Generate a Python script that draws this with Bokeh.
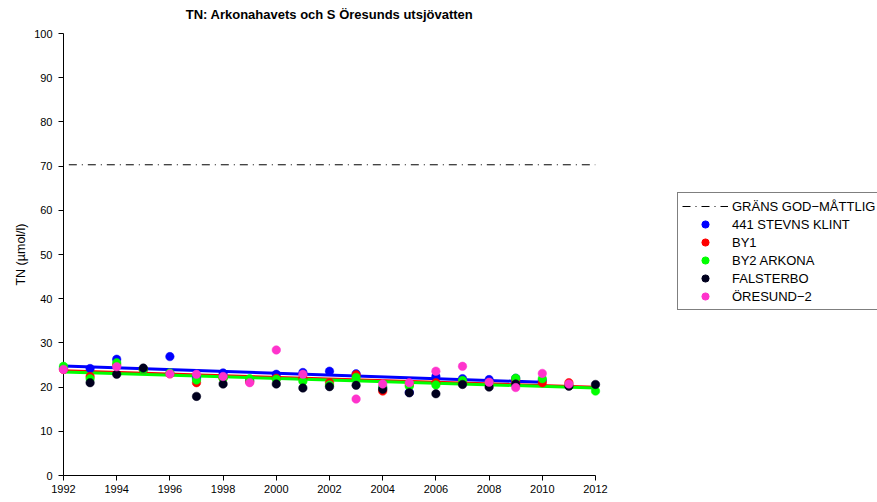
from bokeh.plotting import figure
from bokeh.models import Range1d, Legend, LegendItem, FixedTicker
from bokeh.core.properties import value
from bokeh.layouts import row
from bokeh.embed import file_html
from bokeh.resources import INLINE

nan = float("nan")

years = list(range(1992, 2013))
x_ticks = list(range(1992, 2013, 2))
y_ticks = list(range(0, 101, 10))

title_text = "TN: Arkonahavets och S Öresunds utsjövatten"
y_label = "TN (µmol/l)"

series_names = ["441 STEVNS KLINT", "BY1", "BY2 ARKONA", "FALSTERBO", "ÖRESUND−2"]
series_colors = ["#0000ff", "#ff0000", "#00ff00", "#00001e", "#ff33cc"]

stevns = [24.3, 24.2, 26.3, 24.0, 26.9, 22.0, 23.2, 21.5, 22.9, 23.3, 23.6, 23.0,
          19.8, 18.8, 22.4, 21.9, 21.7, 22.0, 21.5, nan, nan]
by1 = [24.0, 22.4, 25.0, 24.0, 23.0, 21.0, 22.0, 21.2, 22.0, 22.0, 21.0, 22.8,
       19.1, 20.5, 21.0, 21.3, 21.0, 21.5, 21.0, 21.0, nan]
by2 = [24.7, 21.9, 25.5, 24.0, 23.2, 21.6, 22.0, 21.9, 21.8, 21.3, 20.5, 22.2,
       20.0, 20.2, 20.5, 21.5, 21.0, 22.0, 21.9, 20.5, 19.1]
falsterbo = [nan, 21.0, 22.9, 24.3, nan, 17.9, 20.7, nan, 20.7, 19.8, 20.1, 20.4,
             19.5, 18.7, 18.5, 20.6, 20.0, 20.7, nan, 20.2, 20.6]
oresund = [24.0, nan, 24.6, nan, 23.0, 22.9, 22.4, 21.0, 28.4, 22.9, nan, 17.3,
           20.7, 21.0, 23.6, 24.7, 21.1, 19.9, 23.1, 20.7, nan]
series_values = [stevns, by1, by2, falsterbo, oresund]

# trend lines (start/end)
trend_names = ["441 STEVNS KLINT", "BY1", "BY2 ARKONA"]
trend_x = [[1992, 2010], [1992, 2012], [1992, 2012]]
trend_y = [[24.8, 21.1], [23.8, 20.1], [23.4, 19.8]]
trend_widths = [3, 2, 3]

limit_name = "GRÄNS GOD−MÅTTLIG"
limit_x = [1992.2, 2012]
limit_y = [70.3, 70.3]

FONT = "Liberation Sans"
LIMIT_DASH = "8 5 1 5"
DOT = 8.5

MAIN_W = 620
H = 502

p = figure(width=MAIN_W, height=H, output_backend="svg", toolbar_location=None,
           x_range=Range1d(1992, 2012), y_range=Range1d(0, 100),
           min_border_left=63, min_border_right=MAIN_W - 595, min_border_top=33,
           min_border_bottom=27)
p.outline_line_color = None
p.xgrid.visible = False
p.ygrid.visible = False

xa = p.xaxis[0]
xa.ticker = FixedTicker(ticks=x_ticks)
xa.minor_tick_line_color = None
xa.major_tick_in = 0
xa.major_tick_out = 5
xa.major_label_standoff = 4
xa.axis_line_color = "black"
xa.major_tick_line_color = "black"
xa.major_label_text_font = FONT
xa.major_label_text_font_size = "11px"
xa.major_label_text_color = "black"

ya = p.yaxis[0]
ya.ticker = FixedTicker(ticks=y_ticks)
ya.minor_tick_line_color = None
ya.major_tick_in = 0
ya.major_tick_out = 5
ya.major_label_standoff = 6
ya.axis_line_color = "black"
ya.major_tick_line_color = "black"
ya.major_label_text_font = FONT
ya.major_label_text_font_size = "11px"
ya.major_label_text_color = "black"
ya.axis_label = y_label
ya.axis_label_text_font = FONT
ya.axis_label_text_font_size = "12.5px"
ya.axis_label_text_font_style = "normal"
ya.axis_label_text_color = "black"
ya.axis_label_standoff = 3

# chart title, drawn above the frame (overlay level is not clipped)
p.text(x=[(x_ticks[0] + x_ticks[-1]) / 2], y=[104.3], text=[title_text],
       text_align="center", text_baseline="middle", text_font=value(FONT),
       text_font_size="13px", text_font_style="bold", text_color="black",
       level="overlay")

p.line(limit_x, limit_y, line_color="black", line_width=1, line_dash=LIMIT_DASH)

for name, tx, ty, w in zip(trend_names, trend_x, trend_y, trend_widths):
    c = series_colors[series_names.index(name)]
    p.line(tx, ty, line_color=c, line_width=w, level="overlay")

for name, vals, c in zip(series_names, series_values, series_colors):
    p.scatter(years, vals, marker="circle", size=DOT, fill_color=c,
              line_color=c, line_width=0.5, level="overlay")

# legend panel (separate canvas to the right, so the legend is not clipped)
LEG_W = 877 - MAIN_W
q = figure(width=LEG_W, height=H, output_backend="svg", toolbar_location=None,
           x_axis_location=None, y_axis_location=None,
           x_range=Range1d(0, 1), y_range=Range1d(0, 1),
           min_border_left=0, min_border_right=0, min_border_top=0,
           min_border_bottom=0)
q.outline_line_color = None
q.xgrid.visible = False
q.ygrid.visible = False

items = []
r = q.line([nan, nan], [nan, nan], line_color="black", line_width=1,
           line_dash=LIMIT_DASH)
items.append(LegendItem(label=limit_name, renderers=[r]))
for name, c in zip(series_names, series_colors):
    r = q.scatter([nan], [nan], marker="circle", size=7.5, fill_color=c, line_color=c)
    items.append(LegendItem(label=name, renderers=[r]))

legend = Legend(items=items, location=(677 - MAIN_W, 475 - 310), orientation="vertical",
                border_line_color="black", border_line_width=1,
                background_fill_color="white", background_fill_alpha=1.0,
                label_text_font=FONT, label_text_font_size="13px",
                label_text_color="black", glyph_width=46, glyph_height=18,
                label_height=18, label_standoff=4, spacing=0, padding=4, margin=0)
q.add_layout(legend, "center")

layout = row(p, q, spacing=0)
open("out.html", "w").write(file_html(layout, INLINE))
